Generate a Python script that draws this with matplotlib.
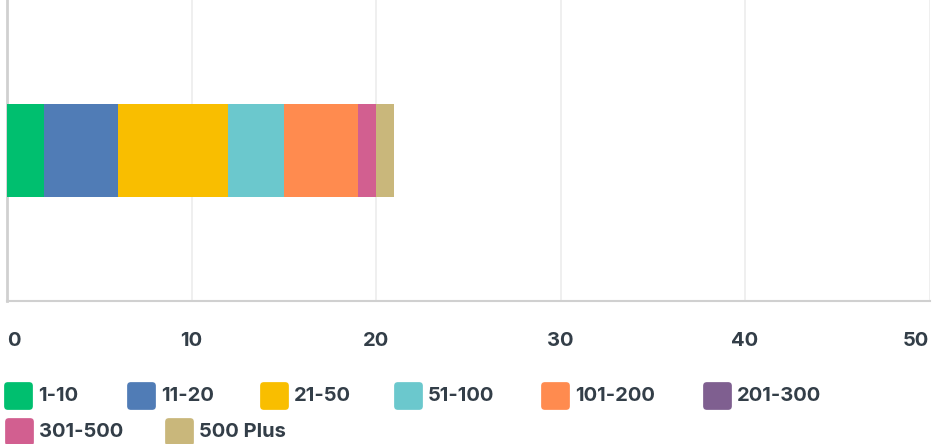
import matplotlib.pyplot as plt
from matplotlib.patches import FancyBboxPatch

categories = ['1-10', '11-20', '21-50', '51-100', '101-200', '201-300', '301-500', '500 Plus']
values = [2, 4, 6, 3, 4, 0, 1, 1]
colors = ['#00bf6f', '#507cb6', '#f9be00', '#6bc8cd', '#ff8b4f', '#7f5f90', '#d25f90', '#c9b77b']
xticks = [0, 10, 20, 30, 40, 50]

W, H = 934, 444
plt.rcParams['font.family'] = ['Inter', 'DejaVu Sans']
text_color = '#333e48'

fig = plt.figure(figsize=(W / 100, H / 100), dpi=100)
ax = fig.add_axes([7 / W, (H - 301) / H, (929.5 - 7) / W, 301 / H])

left = 0
for cat, v, c in zip(categories, values, colors):
    ax.barh(0, v, left=left, height=0.31, color=c, label=cat, zorder=3)
    left += v

ax.set_xlim(0, 50)
ax.set_ylim(-0.5, 0.5)
ax.set_yticks([])
ax.set_xticks(xticks)
ax.set_xticklabels([str(t) for t in xticks], fontsize=14.5, fontweight='bold',
                   color=text_color)
ax.tick_params(axis='x', length=0, pad=22)
labels = ax.get_xticklabels()
labels[0].set_ha('left')
labels[-1].set_ha('right')
ax.grid(axis='x', color='#ececec', linewidth=1.2, zorder=0)
for s in ['top', 'right']:
    ax.spines[s].set_visible(False)
ax.spines['left'].set_color('#d0d0d0')
ax.spines['left'].set_linewidth(2)
ax.spines['bottom'].set_color('#d0d0d0')
ax.spines['bottom'].set_linewidth(1.5)

# legend laid out as flowing rows like the original
rows = [(396, [4, 127, 260, 394, 541, 703]), (432, [5, 165])]
idx = 0
for yc, xs in rows:
    for x0 in xs:
        box = FancyBboxPatch(((x0 + 2) / W, (H - yc - 12) / H), 25 / W, 24 / H,
                             boxstyle='round,pad=0.002,rounding_size=0.004',
                             transform=fig.transFigure, facecolor=colors[idx],
                             edgecolor='none', mutation_aspect=W / H)
        fig.patches.append(box)
        fig.text((x0 + 34) / W, (H - yc) / H, categories[idx], fontsize=14.5,
                 fontweight='bold', color=text_color, va='center', ha='left')
        idx += 1

fig.savefig('out.png', dpi=100)
